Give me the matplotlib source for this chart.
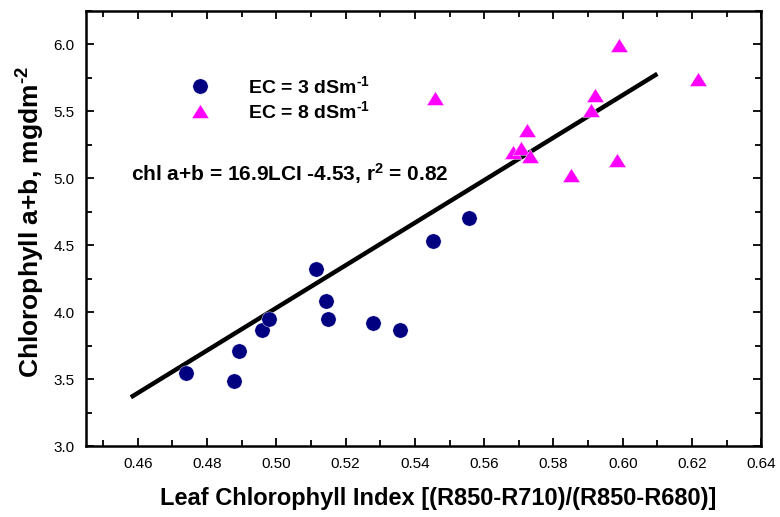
import numpy as np
import matplotlib.pyplot as plt
from matplotlib.ticker import MultipleLocator

plt.rcParams['font.family'] = ['Liberation Sans', 'DejaVu Sans']
plt.rcParams['mathtext.fontset'] = 'custom'
plt.rcParams['mathtext.rm'] = 'Liberation Sans:bold'
plt.rcParams['mathtext.bf'] = 'Liberation Sans:bold'
plt.rcParams['mathtext.default'] = 'bf'

# EC = 3 dSm-1
lci_3 = [0.474, 0.4878, 0.4891, 0.4959, 0.498, 0.5115, 0.5142, 0.5148, 0.528, 0.5356, 0.5452, 0.5557]
chl_3 = [3.543, 3.49, 3.709, 3.866, 3.953, 4.326, 4.082, 3.948, 3.923, 3.866, 4.532, 4.70]

# EC = 8 dSm-1
lci_8 = [0.5457, 0.5683, 0.5706, 0.5725, 0.5732, 0.5852, 0.5909, 0.592, 0.5984, 0.5988, 0.6218]
chl_8 = [5.597, 5.196, 5.226, 5.358, 5.166, 5.022, 5.513, 5.619, 5.139, 5.993, 5.744]

# regression line end points
fit_x = [0.458, 0.610]
fit_y = [3.365, 5.78]

# flat triangle marker like the original
tri = [(-1, -0.8), (1, -0.8), (0, 0.8), (-1, -0.8)]

fig = plt.figure(figsize=(7.8, 5.17), dpi=100)
ax = fig.add_axes([0.110, 0.137, 0.866, 0.842])

ax.plot(fit_x, fit_y, color='black', lw=3.2, solid_capstyle='butt', zorder=2)
ax.plot(lci_3, chl_3, 'o', color='#000080', ms=11, mec='white', mew=0.3, ls='none',
        label='EC = 3 dSm$^{\\text{-1}}$', zorder=3)
ax.plot(lci_8, chl_8, marker=tri, color='#ff00ff', ms=12.5, mec='white', mew=0.3, ls='none',
        label='EC = 8 dSm$^{\\text{-1}}$', zorder=3)

ax.set_xlim(0.445, 0.64)
ax.set_ylim(3.0, 6.25)
ax.xaxis.set_major_locator(MultipleLocator(0.02))
ax.xaxis.set_minor_locator(MultipleLocator(0.01))
ax.yaxis.set_major_locator(MultipleLocator(0.5))
ax.yaxis.set_minor_locator(MultipleLocator(0.25))
ax.xaxis.set_major_formatter(plt.FormatStrFormatter('%.2f'))
ax.yaxis.set_major_formatter(plt.FormatStrFormatter('%.1f'))

ax.tick_params(which='both', direction='in', top=True, right=True, width=1.3, labelsize=11, pad=8)
ax.tick_params(which='major', length=6)
ax.tick_params(which='minor', length=4)
for s in ax.spines.values():
    s.set_linewidth(1.8)

ax.set_xlabel('Leaf Chlorophyll Index [(R850-R710)/(R850-R680)]', fontsize=17, fontweight='bold')
ax.xaxis.set_label_coords(0.522, -0.094, transform=ax.transAxes)
ax.xaxis.label.set_va('top')
ax.set_ylabel('Chlorophyll a+b, mgdm$^{\\text{-2}}$', fontsize=19, fontweight='bold')
ax.yaxis.set_label_coords(-0.082, 0.514, transform=ax.transAxes)
ax.yaxis.label.set_va('center')

leg = ax.legend(loc='upper left', bbox_to_anchor=(0.1286, 0.870), frameon=False,
                prop={'size': 14, 'weight': 'bold'}, handletextpad=1.47,
                labelspacing=0.15, borderaxespad=0)

ax.text(0.458, 5.037, 'chl a+b = 16.9LCI -4.53, r$^{\\text{2}}$ = 0.82',
        fontsize=15, fontweight='bold', va='center')

fig.savefig('out.png', dpi=100)
